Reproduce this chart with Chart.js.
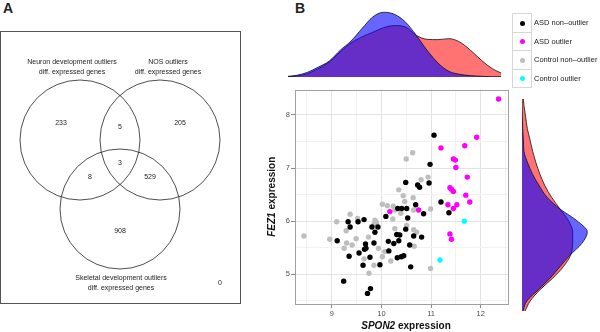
<!DOCTYPE html>
<html>
<head>
<meta charset="utf-8">
<script src="https://cdn.jsdelivr.net/npm/chart.js@4.4.0/dist/chart.umd.min.js"></script>
<style>
  html, body { margin: 0; padding: 0; background: #fff; }
  body { width: 600px; height: 332px; position: relative; overflow: hidden; font-family: "Liberation Sans", Arial, sans-serif; color: #222; }
  canvas { position: absolute; display: block; }
  .panel-label { position: absolute; font-weight: bold; font-size: 14px; line-height: 14px; }
  #vennBox { position: absolute; left: 0; top: 31px; width: 239px; height: 271px; border: 1px solid #555; }
  #vennBox canvas { left: 0; top: 0; }
  #legend { position: absolute; left: 512px; top: 13px; }
  .lg-row { position: relative; height: 18.5px; }
  .lg-key { position: absolute; left: 0; top: 0; width: 18px; height: 17.5px; border: 1px solid #d6d6d6; background: #fff; }
  .lg-dot { position: absolute; left: 7px; top: 6.5px; width: 5px; height: 5px; border-radius: 50%; }
  .lg-text { position: absolute; left: 22px; top: 5px; font-size: 7.5px; line-height: 9px; white-space: nowrap; color: #222; }
</style>
</head>
<body>
<div class="panel-label" style="left:3px;top:1px;">A</div>
<div class="panel-label" style="left:295px;top:1px;">B</div>

<div id="vennBox"><canvas id="venn" width="239" height="271"></canvas></div>
<canvas id="topDensity" width="213" height="77" style="left:288px;top:0px;"></canvas>
<canvas id="rightDensity" width="70" height="212" style="left:522px;top:99px;"></canvas>
<canvas id="scatter" width="273" height="248" style="left:240px;top:84px;"></canvas>
<div id="legend"></div>

<script>
// --- Venn (panel A) ---
const vennSetNames = [
    ['Neuron development outliers', 'diff. expressed genes'],
    ['NOS outliers', 'diff. expressed genes'],
    ['Skeletal development outliers', 'diff. expressed genes']
];
const vennCenterX = [80, 160, 120];
const vennCenterY = [109, 109, 178];
const vennRadius = 60;
const vennCounts = [233, 5, 205, 3, 8, 529, 908, 0];

// --- Scatter (panel B) ---
const groupLabels = ['ASD non\u2013outlier', 'ASD outlier', 'Control non\u2013outlier', 'Control outlier'];
const groupColors = ['#000000', '#ff00ff', '#bebebe', '#00ffff'];

const asdNonX = [11.06, 10.98, 10.96, 10.49, 10.73, 10.77, 11.20, 11.36, 10.33, 10.41, 10.51, 10.69, 10.85, 10.09, 10.53,
    9.33, 9.53, 9.65, 9.37, 9.81, 9.93, 9.87, 10.49, 10.31, 10.37, 10.65, 10.81, 9.11, 10.14, 10.25, 10.35, 10.57,
    9.85, 9.68, 9.69, 9.66, 9.55, 9.35, 9.77, 10.32, 10.40, 10.45, 9.97, 9.63, 10.59, 9.24, 9.78, 9.72, 10.15];
const asdNonY = [7.62, 7.07, 6.72, 6.73, 6.68, 6.64, 6.36, 6.16, 6.24, 6.24, 6.24, 6.31, 6.14, 6.09, 6.06,
    5.99, 5.99, 6.03, 5.89, 5.89, 5.89, 5.79, 5.85, 5.75, 5.74, 5.72, 5.70, 5.63, 5.62, 5.58, 5.63, 5.55,
    5.59, 5.57, 5.49, 5.47, 5.40, 5.34, 5.32, 5.31, 5.33, 5.35, 5.18, 5.17, 5.14, 4.87, 4.73, 4.64, 5.44];

const asdOutX = [12.36, 11.92, 11.68, 11.20, 11.45, 11.49, 11.50, 11.73, 11.38, 11.41, 11.45, 11.70, 11.78, 11.34,
    11.52, 11.45, 11.38, 11.41, 10.17, 10.75];
const asdOutY = [8.30, 7.58, 7.42, 7.38, 7.17, 7.15, 7.01, 6.83, 6.63, 6.60, 6.56, 6.49, 6.36, 6.31,
    6.31, 6.24, 5.76, 5.66, 6.18, 6.21];

const ctrlNonX = [8.44, 8.96, 9.10, 9.37, 9.52, 9.29, 9.30, 9.41, 9.25, 9.49, 9.74, 9.85, 9.75, 9.65, 9.87, 9.90,
    9.85, 9.94, 10.02, 10.19, 10.02, 10.12, 10.24, 10.27, 10.35, 10.44, 10.47, 10.64, 10.65, 10.99, 10.39, 10.23,
    10.27, 10.51, 10.65, 10.71, 10.66, 10.99, 10.94, 10.80, 10.50, 10.63, 10.07];
const ctrlNonY = [5.72, 5.66, 5.99, 6.13, 6.05, 5.82, 5.59, 5.55, 5.49, 5.67, 5.70, 5.17, 5.02, 5.29, 6.02, 5.97,
    5.94, 5.49, 5.33, 5.25, 6.32, 6.29, 6.28, 6.21, 6.59, 6.48, 6.37, 6.44, 6.21, 6.23, 6.15, 6.04,
    5.86, 5.92, 5.84, 5.79, 5.53, 5.11, 6.83, 6.78, 7.17, 7.29, 5.43];

const ctrlOutX = [11.67, 11.18];
const ctrlOutY = [6.00, 5.27];

const xMajorTicks = [9, 10, 11, 12];
const xMinorTicks = [8.5, 9.5, 10.5, 11.5, 12.5];
const yMajorTicks = [5, 6, 7, 8];
const yMinorTicks = [4.5, 5.5, 6.5, 7.5];

// --- Marginal densities ---
const topDensX = [8.44, 8.6, 8.8, 9.0, 9.2, 9.4, 9.6, 9.8, 10.0, 10.2, 10.4, 10.6, 10.8, 11.0, 11.2, 11.4, 11.6, 11.8, 12.0, 12.2, 12.36];
const asdTopDens = [0.003, 0.010, 0.034, 0.085, 0.153, 0.255, 0.347, 0.408, 0.456, 0.503, 0.524, 0.510, 0.425, 0.384, 0.381, 0.391, 0.357, 0.272, 0.170, 0.085, 0.041];
const ctrlTopDens = [0.007, 0.017, 0.048, 0.102, 0.163, 0.272, 0.367, 0.493, 0.612, 0.660, 0.639, 0.561, 0.425, 0.272, 0.143, 0.058, 0.027, 0.014, 0.007, 0.003, 0.003];

const rightDensY = [8.31, 8.2, 8.0, 7.8, 7.6, 7.4, 7.2, 7.0, 6.8, 6.6, 6.4, 6.2, 6.0, 5.8, 5.6, 5.4, 5.2, 5.0, 4.8, 4.63];
const asdRightDens = [0.014, 0.020, 0.037, 0.054, 0.082, 0.109, 0.143, 0.184, 0.235, 0.303, 0.388, 0.473, 0.517, 0.517, 0.496, 0.422, 0.313, 0.184, 0.082, 0.031];
const ctrlRightDens = [0.0, 0.0, 0.003, 0.007, 0.014, 0.020, 0.058, 0.109, 0.177, 0.258, 0.388, 0.558, 0.666, 0.609, 0.490, 0.388, 0.286, 0.167, 0.048, 0.010];

const FONT = '"Liberation Sans", Arial, sans-serif';
const asdFill = 'rgba(255, 0, 0, 0.55)';
const ctrlFill = 'rgba(0, 0, 255, 0.6)';

Chart.defaults.animation = false;
Chart.defaults.responsive = false;
Chart.defaults.devicePixelRatio = 1;
Chart.defaults.font.family = FONT;
Chart.defaults.plugins.legend.display = false;
Chart.defaults.plugins.tooltip.enabled = false;

// Venn diagram: circles as scatter points, radius taken from the x scale
const vennTextPlugin = {
    id: 'vennText',
    afterDatasetsDraw(chart) {
        const { ctx, scales: { x, y } } = chart;
        ctx.save();
        ctx.fillStyle = '#222';
        ctx.font = '7px ' + FONT;
        ctx.textAlign = 'center';
        ctx.textBaseline = 'middle';
        // set names
        const nameX = [72, 168, 121];
        const nameY = [31.5, 31.5, 247.5];
        vennSetNames.forEach((lines, i) => {
            lines.forEach((line, k) => {
                ctx.fillText(line, x.getPixelForValue(nameX[i]), y.getPixelForValue(nameY[i] + k * 9.5));
            });
        });
        // region counts
        const countX = [61, 120, 180, 120, 90, 150, 120, 220];
        const countY = [92, 96, 92, 132, 146, 146, 200, 252];
        vennCounts.forEach((n, i) => {
            ctx.fillText(String(n), x.getPixelForValue(countX[i]), y.getPixelForValue(countY[i]));
        });
        ctx.restore();
    }
};

new Chart(document.getElementById('venn'), {
    type: 'scatter',
    data: {
        datasets: [{
            data: vennCenterX.map((cx, i) => ({ x: cx, y: vennCenterY[i] })),
            backgroundColor: 'rgba(0,0,0,0)',
            borderColor: '#222',
            borderWidth: 0.8,
            pointRadius: (c) => {
                const s = c.chart.scales.x;
                return Math.abs(s.getPixelForValue(vennRadius) - s.getPixelForValue(0));
            }
        }]
    },
    options: {
        layout: { padding: 0 },
        scales: {
            x: { type: 'linear', min: 1, max: 240, display: false },
            y: { type: 'linear', min: 1, max: 272, reverse: true, display: false }
        }
    },
    plugins: [vennTextPlugin]
});

// Scatter plot
const panelBorderPlugin = {
    id: 'panelBorder',
    afterDraw(chart) {
        const { ctx, chartArea: a } = chart;
        ctx.save();
        ctx.strokeStyle = '#a0a0a0';
        ctx.lineWidth = 1;
        ctx.strokeRect(Math.round(a.left) + 0.5, Math.round(a.top) + 0.5, Math.round(a.right - a.left) - 1, Math.round(a.bottom - a.top) - 1);
        ctx.restore();
    }
};

const axisTitlePlugin = {
    id: 'axisTitles',
    afterDraw(chart) {
        const { ctx, chartArea: a } = chart;
        const italic = 'italic bold 10px ' + FONT;
        const bold = 'bold 10px ' + FONT;
        function drawMixed(gene, rest, cx, cy, rot) {
            ctx.save();
            ctx.translate(cx, cy);
            ctx.rotate(rot);
            ctx.fillStyle = '#111';
            ctx.textBaseline = 'middle';
            ctx.font = italic;
            const w1 = ctx.measureText(gene).width;
            ctx.font = bold;
            const w2 = ctx.measureText(rest).width;
            let sx = -(w1 + w2) / 2;
            ctx.font = italic;
            ctx.fillText(gene, sx, 0);
            ctx.font = bold;
            ctx.fillText(rest, sx + w1, 0);
            ctx.restore();
        }
        drawMixed('SPON2', ' expression', (a.left + a.right) / 2 + 4, 242.5, 0);
        drawMixed('FEZ1', ' expression', 32, (a.top + a.bottom) / 2, -Math.PI / 2);
    }
};

function gridScale(min, max, majors, minors, fitProp, fitSize) {
    return {
        type: 'linear',
        min: min,
        max: max,
        afterBuildTicks: (s) => {
            s.ticks = majors.concat(minors).sort((p, q) => p - q).map(v => ({ value: v }));
        },
        afterFit: (s) => { s[fitProp] = fitSize; },
        border: { display: false },
        grid: {
            color: (c) => majors.includes(c.tick.value) ? '#e3e3e3' : '#f2f2f2',
            tickColor: (c) => majors.includes(c.tick.value) ? '#8c8c8c' : 'rgba(0,0,0,0)',
            tickLength: 4,
            lineWidth: 1
        },
        ticks: {
            autoSkip: false,
            maxRotation: 0,
            padding: 1,
            color: '#4d4d4d',
            font: { size: 7.5 },
            callback: (v) => majors.includes(v) ? String(v) : ''
        }
    };
}

const scatterGroups = [[asdNonX, asdNonY], [asdOutX, asdOutY], [ctrlNonX, ctrlNonY], [ctrlOutX, ctrlOutY]];

new Chart(document.getElementById('scatter'), {
    type: 'scatter',
    data: {
        datasets: scatterGroups.map((g, i) => ({
            label: groupLabels[i],
            data: g[0].map((x, j) => ({ x: x, y: g[1][j] })),
            backgroundColor: groupColors[i],
            borderWidth: 0,
            pointRadius: 2.7
        }))
    },
    options: {
        layout: { padding: { top: 4, right: 2, left: 0, bottom: 0 } },
        scales: {
            x: gridScale(8.26, 12.57, xMajorTicks, xMinorTicks, 'height', 28),
            y: gridScale(4.44, 8.48, yMajorTicks, yMinorTicks, 'width', 55)
        }
    },
    plugins: [panelBorderPlugin, axisTitlePlugin]
});

// Marginal densities: blue (Control) drawn over red (ASD)
function densitySet(dens, vals, fill, horizontal) {
    return {
        data: vals.map((v, i) => horizontal ? { x: dens[i], y: v } : { x: v, y: dens[i] }),
        backgroundColor: fill,
        borderColor: '#111',
        borderWidth: 0.8,
        fill: 'origin',
        pointRadius: 0,
        cubicInterpolationMode: 'monotone'
    };
}

new Chart(document.getElementById('topDensity'), {
    type: 'line',
    data: {
        datasets: [
            densitySet(ctrlTopDens, topDensX, ctrlFill, false),
            densitySet(asdTopDens, topDensX, asdFill, false)
        ]
    },
    options: {
        layout: { padding: 0 },
        scales: {
            x: { type: 'linear', min: 8.44, max: 12.36, display: false },
            y: { type: 'linear', min: 0, max: 0.785, display: false }
        }
    }
});

new Chart(document.getElementById('rightDensity'), {
    type: 'line',
    data: {
        datasets: [
            densitySet(ctrlRightDens, rightDensY, ctrlFill, true),
            densitySet(asdRightDens, rightDensY, asdFill, true)
        ]
    },
    options: {
        indexAxis: 'y',
        layout: { padding: 0 },
        scales: {
            x: { type: 'linear', min: 0, max: 0.714, display: false },
            y: { type: 'linear', min: 4.63, max: 8.31, display: false }
        }
    }
});

// Legend
const legendEl = document.getElementById('legend');
groupLabels.forEach((label, i) => {
    const row = document.createElement('div');
    row.className = 'lg-row';
    row.innerHTML = '<div class="lg-key"><span class="lg-dot" style="background:' + groupColors[i] + '"></span></div>' +
        '<span class="lg-text">' + label + '</span>';
    legendEl.appendChild(row);
});
</script>
</body>
</html>
